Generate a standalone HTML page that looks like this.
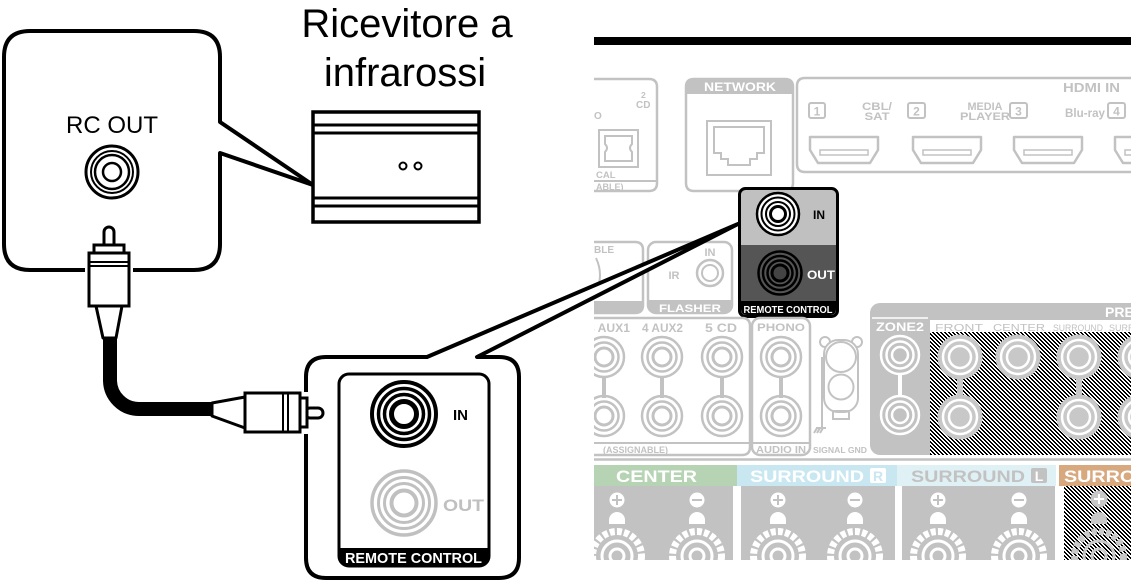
<!DOCTYPE html>
<html><head><meta charset="utf-8"><style>
html,body{margin:0;padding:0;background:#fff;}
svg{display:block;}
text{font-family:"Liberation Sans",Arial,sans-serif;}
</style></head><body>
<svg width="1131" height="582" viewBox="0 0 1131 582" xmlns="http://www.w3.org/2000/svg">
<defs>
<pattern id="dith" width="4" height="4" patternUnits="userSpaceOnUse">
<rect width="4" height="4" fill="#fff"/>
<path d="M0 0h2v1H0zM1 1h2v1H1zM2 2h2v1H2zM3 3h1v1H3zM0 3h1v1H0z" fill="#000"/>
</pattern>
<clipPath id="pc"><rect x="594" y="0" width="537" height="560"/></clipPath>
<g id="gj" fill="none" stroke="#c2c2c2">
<circle r="20" stroke-width="2.5"/><circle r="14.5" stroke-width="2.5"/><circle r="9" stroke-width="3"/>
</g>
<g id="wj" fill="none" stroke="#fff">
<circle r="19" stroke-width="2.5"/><circle r="13.5" stroke-width="2.5"/><circle r="8" stroke-width="2.5"/>
</g>
<g id="dj">
<circle r="22.5" fill="#c8c8c8"/>
<circle r="17" fill="none" stroke="#fff" stroke-width="2.5"/>
<circle r="11" fill="none" stroke="#fff" stroke-width="2.5"/>
</g>
<g id="tbase">
<path d="M-8 524V520A8 8 0 0 1 8 520V524Z" fill="#fff"/>
<circle cx="0" cy="556" r="24.5" fill="none" stroke="#fff" stroke-width="7" stroke-dasharray="5 2.2"/>
<circle cx="0" cy="556" r="15" fill="none" stroke="#fff" stroke-width="3"/>
<circle cx="0" cy="556" r="7" fill="none" stroke="#fff" stroke-width="3"/>
</g>
<g id="tplus"><circle cx="0" cy="500" r="7.5" fill="#fff"/><path d="M-5 500H5M0 495V505" stroke="#c2c2c2" stroke-width="2"/></g>
<g id="tminus"><circle cx="0" cy="500" r="7.5" fill="#fff"/><path d="M-5 500H5" stroke="#c2c2c2" stroke-width="2"/></g>
</defs>

<!-- ============ RIGHT PANEL ============ -->
<rect x="594" y="37" width="537" height="8" fill="#000"/>
<g clip-path="url(#pc)">
<!-- left partial top box -->
<path d="M560 79H649Q657 79 657 87V183Q657 191 649 191H560" fill="none" stroke="#c2c2c2" stroke-width="2.5"/>
<line x1="560" y1="181" x2="657" y2="181" stroke="#c2c2c2" stroke-width="2"/>
<text x="641" y="98" font-size="8.5" font-weight="bold" fill="#c2c2c2">2</text>
<text x="636" y="108" font-size="10" font-weight="bold" fill="#c2c2c2">CD</text>
<text x="594" y="119" font-size="10" font-weight="bold" fill="#c2c2c2">O</text>
<rect x="599" y="130" width="39" height="37" fill="none" stroke="#c2c2c2" stroke-width="2"/>
<path d="M605 136H632V144Q628 148 632 152V161H605V152Q609 148 605 144Z" fill="none" stroke="#c2c2c2" stroke-width="2"/>
<text x="596" y="178" font-size="9.5" font-weight="bold" fill="#c2c2c2">CAL</text>
<text x="596" y="190" font-size="9" font-weight="bold" fill="#c2c2c2">ABLE)</text>

<!-- NETWORK -->
<path d="M694 79H785Q793 79 793 87V183Q793 191 785 191H694Q686 191 686 183V87Q686 79 694 79Z" fill="none" stroke="#c2c2c2" stroke-width="2.5"/>
<path d="M686 94V87Q686 79 694 79H785Q793 79 793 87V94Z" fill="#c2c2c2"/>
<text x="740" y="91" text-anchor="middle" font-size="12" font-weight="bold" fill="#fff" textLength="72" lengthAdjust="spacingAndGlyphs">NETWORK</text>
<rect x="707" y="121" width="64" height="54" fill="none" stroke="#c2c2c2" stroke-width="2"/>
<path d="M714 127H764V153H757V159H750V165H728V159H721V153H714Z" fill="none" stroke="#c2c2c2" stroke-width="2"/>

<!-- HDMI IN -->
<path d="M1140 78H805Q797 78 797 86V164Q797 172 805 172H1140" fill="none" stroke="#c2c2c2" stroke-width="2.5"/>
<text x="1063" y="92" font-size="12.5" font-weight="bold" fill="#c2c2c2" textLength="57" lengthAdjust="spacingAndGlyphs">HDMI IN</text>
<g fill="none" stroke="#c2c2c2" stroke-width="2">
<rect x="809" y="103" width="16" height="15" rx="2"/>
<rect x="908" y="103" width="17" height="15" rx="2"/>
<rect x="1010" y="103" width="17" height="15" rx="2"/>
<rect x="1108" y="103" width="17" height="15" rx="2"/>
</g>
<g font-size="12" font-weight="bold" fill="#c2c2c2" text-anchor="middle">
<text x="817" y="115.5">1</text><text x="916.5" y="115.5">2</text><text x="1018.5" y="115.5">3</text><text x="1116.5" y="115.5">4</text>
</g>
<g font-size="11" font-weight="bold" fill="#c2c2c2" text-anchor="middle">
<text x="877" y="110" textLength="30" lengthAdjust="spacingAndGlyphs">CBL/</text>
<text x="877" y="120" textLength="25" lengthAdjust="spacingAndGlyphs">SAT</text>
<text x="985" y="110" textLength="35" lengthAdjust="spacingAndGlyphs">MEDIA</text>
<text x="985" y="120" textLength="50" lengthAdjust="spacingAndGlyphs">PLAYER</text>
</g>
<text x="1065" y="117" font-size="12" font-weight="bold" fill="#c2c2c2" textLength="40" lengthAdjust="spacingAndGlyphs">Blu-ray</text>
<g fill="none" stroke="#c2c2c2" stroke-width="2.5" stroke-linejoin="round">
<path d="M810 137H878V150L870 163H818L810 150Z"/>
<path d="M913 137H981V150L973 163H921L913 150Z"/>
<path d="M1014 137H1082V150L1074 163H1022L1014 150Z"/>
<path d="M1115 137H1183V150L1175 163H1123L1115 150Z"/>
</g>
<g fill="none" stroke="#c2c2c2" stroke-width="1.5">
<rect x="820" y="150" width="48" height="5"/>
<rect x="923" y="150" width="48" height="5"/>
<rect x="1024" y="150" width="48" height="5"/>
<rect x="1125" y="150" width="48" height="5"/>
</g>

<!-- BLE box -->
<path d="M560 242H635Q643 242 643 250V305Q643 313 635 313H560" fill="none" stroke="#c2c2c2" stroke-width="2.5"/>
<path d="M560 301H643V305Q643 313 635 313H560Z" fill="#c2c2c2"/>
<text x="594" y="253" font-size="10" font-weight="bold" fill="#c2c2c2">BLE</text>
<path d="M596 258Q604 275 596 292" fill="none" stroke="#c2c2c2" stroke-width="2"/>

<!-- FLASHER -->
<rect x="648" y="242" width="84" height="71" rx="8" fill="none" stroke="#c2c2c2" stroke-width="2.5"/>
<path d="M648 300H732V305Q732 313 724 313H656Q648 313 648 305Z" fill="#c2c2c2"/>
<text x="690" y="312" text-anchor="middle" font-size="11" font-weight="bold" fill="#fff" textLength="62" lengthAdjust="spacingAndGlyphs">FLASHER</text>
<text x="710" y="256" text-anchor="middle" font-size="11" font-weight="bold" fill="#c2c2c2">IN</text>
<text x="674" y="279" text-anchor="middle" font-size="11" font-weight="bold" fill="#c2c2c2">IR</text>
<circle cx="710" cy="273" r="13" fill="none" stroke="#c2c2c2" stroke-width="2.5"/>
<circle cx="710" cy="273" r="8" fill="none" stroke="#c2c2c2" stroke-width="2"/>

<!-- REMOTE CONTROL (panel) -->
<rect x="739.5" y="188.5" width="98" height="128" rx="6" fill="#c0c0c0" stroke="#000" stroke-width="3"/>
<rect x="741" y="245" width="95" height="56" fill="#555"/>
<path d="M741 301H836V309Q836 315 830 315H747Q741 315 741 309Z" fill="#000"/>
<circle cx="778" cy="214" r="21" fill="#fff" stroke="#000" stroke-width="2.5"/>
<circle cx="778" cy="214" r="16.5" fill="none" stroke="#000" stroke-width="2"/>
<circle cx="778" cy="214" r="12" fill="none" stroke="#000" stroke-width="2"/>
<circle cx="778" cy="214" r="7.5" fill="#fff" stroke="#000" stroke-width="3"/>
<circle cx="780" cy="273" r="21.5" fill="#555" stroke="#000" stroke-width="2.5"/>
<circle cx="780" cy="273" r="17" fill="none" stroke="#000" stroke-width="2.5"/>
<circle cx="780" cy="273" r="12.5" fill="none" stroke="#000" stroke-width="2.5"/>
<circle cx="780" cy="273" r="8" fill="#444" stroke="#000" stroke-width="3"/>
<text x="813" y="219" font-size="12" font-weight="bold" fill="#000">IN</text>
<text x="807" y="279" font-size="12" font-weight="bold" fill="#fff" textLength="28" lengthAdjust="spacingAndGlyphs">OUT</text>
<text x="788" y="313" text-anchor="middle" font-size="10" font-weight="bold" fill="#fff" textLength="89" lengthAdjust="spacingAndGlyphs">REMOTE CONTROL</text>

<!-- AUX box -->
<path d="M560 318H742Q750 318 750 326V447Q750 455 742 455H560" fill="none" stroke="#c2c2c2" stroke-width="2.5"/>
<line x1="560" y1="443" x2="750" y2="443" stroke="#c2c2c2" stroke-width="2"/>
<g font-size="12" font-weight="bold" fill="#c2c2c2">
<text x="588" y="332" textLength="42" lengthAdjust="spacingAndGlyphs">3 AUX1</text>
<text x="642" y="332" textLength="41" lengthAdjust="spacingAndGlyphs">4 AUX2</text>
<text x="705" y="332" textLength="32" lengthAdjust="spacingAndGlyphs">5 CD</text>
</g>
<text x="603" y="453" font-size="9" font-weight="bold" fill="#c2c2c2" textLength="65" lengthAdjust="spacingAndGlyphs">(ASSIGNABLE)</text>
<g fill="#c2c2c2">
<rect x="602" y="376" width="4" height="22"/><rect x="660" y="376" width="4" height="22"/><rect x="720" y="376" width="4" height="22"/><rect x="779" y="376" width="4" height="22"/>
</g>
<use href="#gj" x="604" y="357"/><use href="#gj" x="662" y="357"/><use href="#gj" x="722" y="357"/>
<use href="#gj" x="604" y="416"/><use href="#gj" x="662" y="416"/><use href="#gj" x="722" y="416"/>

<!-- PHONO -->
<rect x="752" y="318" width="58" height="137" rx="8" fill="none" stroke="#c2c2c2" stroke-width="2.5"/>
<line x1="752" y1="443" x2="810" y2="443" stroke="#c2c2c2" stroke-width="2"/>
<text x="781" y="331" text-anchor="middle" font-size="11" font-weight="bold" fill="#c2c2c2" textLength="48" lengthAdjust="spacingAndGlyphs">PHONO</text>
<text x="781" y="453" text-anchor="middle" font-size="10" font-weight="bold" fill="#c2c2c2" textLength="50" lengthAdjust="spacingAndGlyphs">AUDIO IN</text>
<use href="#gj" x="781" y="357"/><use href="#gj" x="781" y="416"/>

<!-- SIGNAL GND -->
<g fill="none" stroke="#c2c2c2" stroke-width="2">
<circle cx="825" cy="342" r="5"/><circle cx="857" cy="342" r="5"/>
<rect x="824" y="340" width="34" height="72" rx="14" fill="#fff"/>
<circle cx="841" cy="357" r="15"/>
<circle cx="841" cy="387" r="12.5"/>
<rect x="833" y="411" width="16" height="8"/>
<path d="M822 357V428M816 428H826M817 428L814 433M820 428L817 433M823 428L820 433"/>
</g>
<text x="813" y="453" font-size="8" font-weight="bold" fill="#c2c2c2" textLength="54" lengthAdjust="spacingAndGlyphs">SIGNAL GND</text>

<!-- PRE OUT -->
<rect x="870" y="303" width="290" height="152" rx="10" fill="#c2c2c2"/>
<line x1="872" y1="318" x2="928" y2="318" stroke="#fff" stroke-width="1.5"/>
<text x="900" y="331" text-anchor="middle" font-size="11.5" font-weight="bold" fill="#fff" textLength="48" lengthAdjust="spacingAndGlyphs">ZONE2</text>
<text x="1105" y="317" font-size="14" font-weight="bold" fill="#fff">PRE</text>
<rect x="930" y="320" width="230" height="12" fill="#fff"/>
<rect x="930" y="332" width="230" height="123" fill="url(#dith)"/>
<g font-size="10.5" fill="#c2c2c2">
<text x="935" y="331" textLength="48" lengthAdjust="spacingAndGlyphs">FRONT</text>
<text x="993" y="331" textLength="52" lengthAdjust="spacingAndGlyphs">CENTER</text>
<text x="1053" y="331" font-size="9" textLength="50" lengthAdjust="spacingAndGlyphs">SURROUND</text>
<text x="1109" y="331" font-size="9">SURROUND</text>
</g>
<rect x="898" y="374" width="4" height="22" fill="#fff"/>
<use href="#wj" x="900" y="355"/><use href="#wj" x="900" y="415"/>
<rect x="957" y="376" width="6" height="22" fill="#c8c8c8"/>
<rect x="1076" y="376" width="6" height="22" fill="#c8c8c8"/>
<use href="#dj" x="960" y="357"/><use href="#dj" x="1018" y="357"/><use href="#dj" x="1079" y="357"/><use href="#dj" x="1140" y="357"/>
<use href="#dj" x="960" y="417"/><use href="#dj" x="1079" y="417"/><use href="#dj" x="1140" y="417"/>

<!-- separator -->
<line x1="594" y1="459.5" x2="1131" y2="459.5" stroke="#c2c2c2" stroke-width="2.5"/>

<!-- speaker headers -->
<rect x="594" y="465" width="143" height="21" fill="#b6d4b4"/>
<rect x="737" y="465" width="160" height="21" fill="#c9e7f1"/>
<rect x="897" y="465" width="159" height="21" fill="#e0f1f6"/>
<rect x="1059" y="465" width="72" height="21" fill="#d8a97e"/>
<g font-size="17" font-weight="bold">
<text x="616" y="482" fill="#fff" textLength="81" lengthAdjust="spacingAndGlyphs">CENTER</text>
<text x="750" y="482" fill="#fff" textLength="114" lengthAdjust="spacingAndGlyphs">SURROUND</text>
<text x="911" y="482" fill="#c2c2c2" textLength="114" lengthAdjust="spacingAndGlyphs">SURROUND</text>
<text x="1064" y="482" fill="#fff" textLength="114" lengthAdjust="spacingAndGlyphs">SURROUND</text>
</g>
<rect x="870" y="468" width="16" height="15" rx="2" fill="#fff"/>
<text x="878" y="481" text-anchor="middle" font-size="14" font-weight="bold" fill="#c9e7f1">R</text>
<rect x="1031" y="468" width="16" height="15" rx="2" fill="#c2c2c2"/>
<text x="1039" y="481" text-anchor="middle" font-size="14" font-weight="bold" fill="#fff">L</text>

<!-- speaker panels -->
<rect x="594" y="486" width="139" height="74" fill="#c2c2c2"/>
<rect x="741" y="486" width="154" height="74" fill="#c2c2c2"/>
<rect x="902" y="486" width="153" height="74" fill="#c2c2c2"/>
<rect x="1064" y="486" width="67" height="74" fill="url(#dith)"/>
<use href="#tbase" x="617"/><use href="#tbase" x="697"/>
<use href="#tbase" x="778"/><use href="#tbase" x="855"/>
<use href="#tbase" x="938"/><use href="#tbase" x="1019"/>
<use href="#tplus" x="617"/><use href="#tminus" x="697"/>
<use href="#tplus" x="778"/><use href="#tminus" x="855"/>
<use href="#tplus" x="938"/><use href="#tminus" x="1019"/>
<g>
<circle cx="1099" cy="499" r="8.5" fill="#c8c8c8"/><path d="M1094 499H1104M1099 494V504" stroke="#fff" stroke-width="2"/>
<path d="M1091 524V520A8 8 0 0 1 1107 520V524Z" fill="#c8c8c8"/>
<circle cx="1099" cy="556" r="24.5" fill="none" stroke="#c8c8c8" stroke-width="7" stroke-dasharray="5 2.2"/>
<circle cx="1099" cy="556" r="15" fill="none" stroke="#c8c8c8" stroke-width="3"/>
<circle cx="1099" cy="556" r="7" fill="none" stroke="#c8c8c8" stroke-width="3"/>
</g>
</g>

<!-- ============ LEFT SIDE ============ -->
<!-- RC OUT callout -->
<path d="M85 270H30Q4 270 4 244V57Q4 31 30 31H194Q220 31 220 57V122L313 185L220 153V244Q220 270 194 270H133" fill="#fff" stroke="#000" stroke-width="4" stroke-linejoin="round"/>
<text x="112" y="133" text-anchor="middle" font-size="24" fill="#000">RC OUT</text>
<circle cx="112" cy="172" r="26" fill="none" stroke="#000" stroke-width="3"/>
<circle cx="112" cy="172" r="21" fill="none" stroke="#000" stroke-width="2"/>
<circle cx="112" cy="172" r="17" fill="none" stroke="#000" stroke-width="2.5"/>
<circle cx="112" cy="172" r="9" fill="none" stroke="#000" stroke-width="2.5"/>

<!-- IR receiver -->
<text x="407" y="37" text-anchor="middle" font-size="40" fill="#000">Ricevitore a</text>
<text x="405" y="86" text-anchor="middle" font-size="40" fill="#000">infrarossi</text>
<rect x="313" y="112" width="166" height="110" fill="#fff" stroke="#000" stroke-width="3.5"/>
<g stroke="#000" stroke-width="3">
<line x1="313" y1="125" x2="479" y2="125"/><line x1="313" y1="133" x2="479" y2="133"/>
<line x1="313" y1="198" x2="479" y2="198"/><line x1="313" y1="206" x2="479" y2="206"/>
</g>
<circle cx="403" cy="166" r="3.5" fill="none" stroke="#000" stroke-width="2"/>
<circle cx="418" cy="166" r="3.5" fill="none" stroke="#000" stroke-width="2"/>

<!-- bottom REMOTE CONTROL callout -->
<path d="M306 392V377Q306 357 326 357H427L738 224L477 357H499Q519 357 519 377V558Q519 578 499 578H326Q306 578 306 558V434" fill="#fff" stroke="#000" stroke-width="4" stroke-linejoin="round"/>
<rect x="339" y="374" width="150" height="192" rx="10" fill="#fff" stroke="#000" stroke-width="3"/>
<path d="M339 548H489V556Q489 567 478 567H350Q339 567 339 556Z" fill="#000"/>
<text x="345" y="563" font-size="15" font-weight="bold" fill="#fff" textLength="137" lengthAdjust="spacingAndGlyphs">REMOTE CONTROL</text>
<circle cx="404" cy="414" r="32" fill="none" stroke="#000" stroke-width="4"/>
<circle cx="404" cy="414" r="25.5" fill="none" stroke="#000" stroke-width="3.5"/>
<circle cx="404" cy="414" r="19.5" fill="none" stroke="#000" stroke-width="3.5"/>
<circle cx="404" cy="414" r="12.5" fill="none" stroke="#000" stroke-width="5"/>
<text x="453" y="420" font-size="15" font-weight="bold" fill="#000">IN</text>
<circle cx="404" cy="503" r="32" fill="none" stroke="#c0c0c0" stroke-width="3.5"/>
<circle cx="404" cy="503" r="25.5" fill="none" stroke="#c0c0c0" stroke-width="3"/>
<circle cx="404" cy="503" r="19.5" fill="none" stroke="#c0c0c0" stroke-width="3"/>
<circle cx="404" cy="503" r="12.5" fill="none" stroke="#c0c0c0" stroke-width="4"/>
<text x="443" y="511" font-size="17" font-weight="bold" fill="#c0c0c0" textLength="41" lengthAdjust="spacingAndGlyphs">OUT</text>

<!-- cable -->
<path d="M110 336V380A29 29 0 0 0 139 409H214" fill="none" stroke="#000" stroke-width="14"/>
<!-- vertical plug -->
<rect x="104" y="227" width="10" height="24" rx="5" fill="#fff" stroke="#000" stroke-width="3"/>
<rect x="94" y="245" width="30" height="9" fill="#fff" stroke="#000" stroke-width="3"/>
<rect x="89" y="253" width="40" height="53" fill="#fff" stroke="#000" stroke-width="3"/>
<line x1="89" y1="262" x2="129" y2="262" stroke="#000" stroke-width="2"/>
<line x1="89" y1="266" x2="129" y2="266" stroke="#000" stroke-width="2"/>
<polygon points="96,306 122,306 116,338 103,338" fill="#fff" stroke="#000" stroke-width="3" stroke-linejoin="round"/>
<!-- horizontal plug -->
<polygon points="212,403 245,397 245,428 212,416" fill="#fff" stroke="#000" stroke-width="3" stroke-linejoin="round"/>
<rect x="305" y="408" width="18" height="10" rx="5" fill="#fff" stroke="#000" stroke-width="3"/>
<rect x="245" y="393" width="55" height="39" fill="#fff" stroke="#000" stroke-width="3"/>
<line x1="283" y1="393" x2="283" y2="432" stroke="#000" stroke-width="2"/>
<line x1="288" y1="393" x2="288" y2="432" stroke="#000" stroke-width="2"/>
<rect x="300" y="398" width="7" height="29" fill="#fff" stroke="#000" stroke-width="3"/>
</svg>
</body></html>
